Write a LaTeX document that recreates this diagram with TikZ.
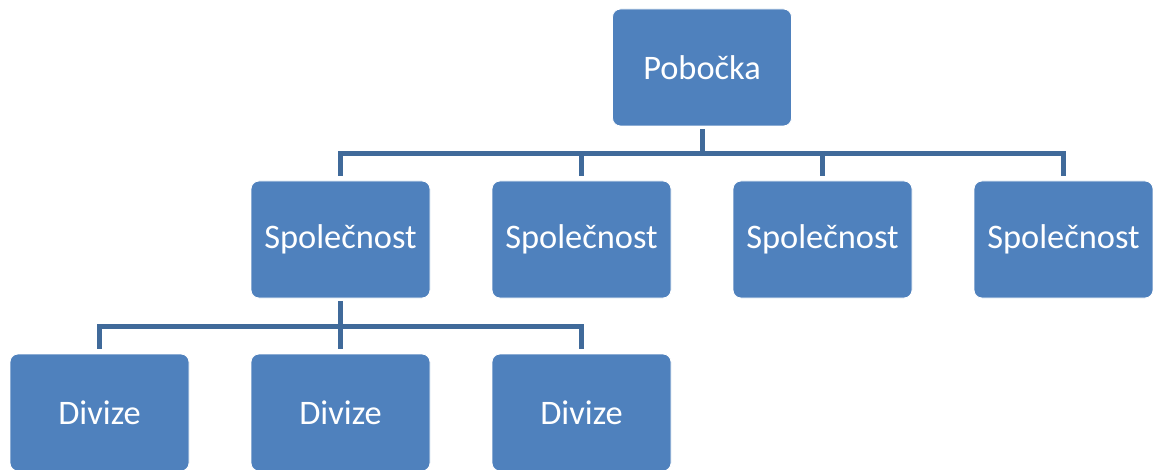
\documentclass[tikz,border=0pt]{standalone}
\usepackage{fontspec}
\setmainfont{Carlito}
\definecolor{boxfill}{RGB}{79,129,189}
\definecolor{connc}{RGB}{64,106,154}
\begin{document}
\begin{tikzpicture}[x=1pt,y=-1pt,
  box/.style={rectangle, rounded corners=8pt, fill=boxfill, draw=white, line width=0.8pt,
    minimum width=179pt, minimum height=117pt, inner sep=0pt, text=white,
    font=\fontsize{34.4}{40}\selectfont, anchor=center},
  conn/.style={draw=connc, line width=5pt, shorten <=3pt, shorten >=5pt}]
\useasboundingbox (0,0) rectangle (1153,470);
\node[box] (P) at (702,67.5) {Pobočka};
\node[box] (S1) at (340.5,239.5) {Společnost};
\node[box] (S2) at (581.5,239.5) {Společnost};
\node[box] (S3) at (822.5,239.5) {Společnost};
\node[box] (S4) at (1063.5,239.5) {Společnost};
\node[box] (D1) at (99.5,412.5) {Divize};
\node[box] (D2) at (340.5,412.5) {Divize};
\node[box] (D3) at (581.5,412.5) {Divize};
\coordinate (b1) at (702,153.5);
\coordinate (b2) at (340.5,326);
\draw[conn, shorten >=0pt] (P.south) -- (b1);
\foreach \s in {S1,S2,S3,S4}
  \draw[conn, shorten <=0pt, line join=miter] (b1) -| (\s.north);
\draw[conn] (S1.south) -- (D2.north);
\foreach \d in {D1,D3}
  \draw[conn, shorten <=0pt] (b2) -| (\d.north);
\end{tikzpicture}
\end{document}
